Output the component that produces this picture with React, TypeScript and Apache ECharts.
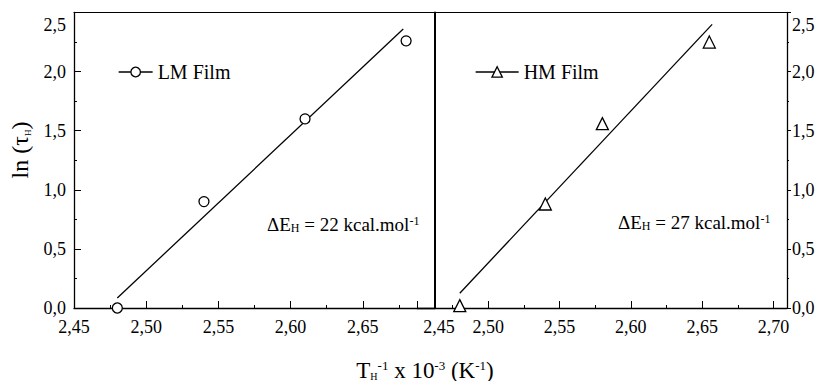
import React, { useEffect, useRef } from 'react';
import * as echarts from 'echarts';

// Data
const lmPoints = [[2.48, 0.0], [2.54, 0.9], [2.61, 1.6], [2.68, 2.26]];
const hmPoints = [[2.48, 0.02], [2.54, 0.88], [2.58, 1.56], [2.655, 2.25]];
const lmFit = [[2.48, 0.085], [2.678, 2.36]];
const hmFit = [[2.48, 0.125], [2.657, 2.4]];
const seriesNames = ['LM Film', 'HM Film'];
const activationEnergies = ['22', '27'];

const FONT = '"Liberation Serif", "Times New Roman", serif';
const BLACK = '#000';

const isMajorX = (v: number) => Math.abs(v * 20 - Math.round(v * 20)) < 1e-6;
const fmtX = (v: number) => (isMajorX(v) ? v.toFixed(2).replace('.', ',') : '');

export default function App() {
  const ref = useRef<HTMLDivElement>(null);
  useEffect(() => {
    const chart = echarts.init(ref.current!, null, { renderer: 'svg' });
    const axisLine = { show: true, onZero: false, lineStyle: { color: BLACK, width: 1.3 } };
    const tickStyle = { color: BLACK, width: 1 };
    const labelBase = { fontFamily: FONT, fontSize: 18, color: BLACK };

    const xMain = (grid: number, max: number, first: boolean) => ({
      type: 'value',
      gridIndex: grid,
      position: 'bottom',
      min: 2.45,
      max,
      interval: 0.05,
      axisLine,
      axisTick: { show: true, inside: true, length: 7, lineStyle: tickStyle },
      minorTick: { show: true, splitNumber: 2, length: 3, lineStyle: tickStyle },
      splitLine: { show: false },
      axisLabel: {
        ...labelBase,
        margin: 10,
        showMaxLabel: false,
        formatter: (v: number) => {
          const s = fmtX(v);
          if (first && s && Math.abs(v - 2.45) < 1e-6) return '{f|' + s + '}';
          return s;
        },
        rich: { f: { ...labelBase, padding: [0, 0, 0, 44] } },
      },
    });
    const xTop = (grid: number, max: number) => ({
      type: 'value',
      gridIndex: grid,
      position: 'top',
      min: 2.45,
      max,
      axisLine: { show: true, onZero: false, lineStyle: { color: BLACK, width: 1.2 } },
      axisTick: { show: false },
      axisLabel: { show: false },
      splitLine: { show: false },
    });
    const yLabel = {
      ...labelBase,
      formatter: (v: number) => {
        const s = v.toFixed(1).replace('.', ',');
        if (Math.abs(v - 2.5) < 1e-6) return '{t|' + s + '}';
        return s;
      },
      rich: { t: { ...labelBase, padding: [24, 0, 0, 0] } },
    };

    const sub = { fontFamily: FONT, fontSize: 10, color: BLACK, verticalAlign: 'bottom' };
    const sup = { fontFamily: FONT, fontSize: 12, color: BLACK, verticalAlign: 'top' };

    const option = {
      animation: false,
      backgroundColor: '#fff',
      grid: [
        { left: 74, top: 12.5, width: 361, height: 295.5 },
        { left: 417, top: 12.5, width: 370, height: 295.5 },
      ],
      xAxis: [xMain(0, 2.7, false), xTop(0, 2.7), xMain(1, 2.7095, true), xTop(1, 2.7095)],
      yAxis: [
        {
          type: 'value',
          gridIndex: 0,
          position: 'left',
          min: 0,
          max: 2.5,
          interval: 0.5,
          axisLine,
          axisTick: { show: true, inside: true, length: 7, lineStyle: tickStyle },
          minorTick: { show: true, splitNumber: 2, length: 3, lineStyle: tickStyle },
          splitLine: { show: false },
          axisLabel: { ...yLabel, margin: 8 },
        },
        {
          type: 'value',
          gridIndex: 0,
          position: 'right',
          min: 0,
          max: 2.5,
          axisLine: { show: true, onZero: false, lineStyle: { color: BLACK, width: 2 } },
          axisTick: { show: false },
          axisLabel: { show: false },
          splitLine: { show: false },
        },
        {
          type: 'value',
          gridIndex: 1,
          position: 'right',
          min: 0,
          max: 2.5,
          interval: 0.5,
          axisLine,
          axisTick: { show: true, inside: false, length: 4, lineStyle: tickStyle },
          minorTick: { show: true, splitNumber: 2, length: 2, lineStyle: tickStyle },
          splitLine: { show: false },
          axisLabel: { ...yLabel, margin: 5 },
        },
      ],
      legend: [
        {
          data: [seriesNames[0]],
          left: 118,
          top: 62,
          padding: 0,
          itemWidth: 34,
          itemHeight: 12,
          selectedMode: false,
          textStyle: { fontFamily: FONT, fontSize: 20, color: BLACK },
          lineStyle: { color: BLACK, width: 1.3, opacity: 1 },
          itemStyle: { color: '#fff', borderColor: BLACK, borderWidth: 1.3 },
        },
        {
          data: [seriesNames[1]],
          left: 475,
          top: 62,
          padding: 0,
          itemWidth: 43,
          itemHeight: 13,
          selectedMode: false,
          textStyle: { fontFamily: FONT, fontSize: 20, color: BLACK },
          lineStyle: { color: BLACK, width: 1.3, opacity: 1 },
          itemStyle: { color: '#fff', borderColor: BLACK, borderWidth: 1.3 },
        },
      ],
      series: [
        {
          name: 'LM fit',
          type: 'line',
          xAxisIndex: 0,
          yAxisIndex: 0,
          data: lmFit,
          symbol: 'none',
          lineStyle: { color: BLACK, width: 1.3 },
        },
        {
          name: seriesNames[0],
          type: 'line',
          xAxisIndex: 0,
          yAxisIndex: 0,
          data: lmPoints,
          symbol: 'circle',
          symbolSize: 10,
          clip: false,
          z: 5,
          lineStyle: { opacity: 0, width: 1.3, color: BLACK },
          itemStyle: { color: '#fff', borderColor: BLACK, borderWidth: 1.3 },
        },
        {
          name: 'HM fit',
          type: 'line',
          xAxisIndex: 2,
          yAxisIndex: 2,
          data: hmFit,
          symbol: 'none',
          lineStyle: { color: BLACK, width: 1.3 },
        },
        {
          name: seriesNames[1],
          type: 'line',
          xAxisIndex: 2,
          yAxisIndex: 2,
          data: hmPoints,
          symbol: 'triangle',
          symbolSize: 12,
          clip: false,
          z: 5,
          lineStyle: { opacity: 0, width: 1.3, color: BLACK },
          itemStyle: { color: '#fff', borderColor: BLACK, borderWidth: 1.3 },
        },
      ],
      graphic: [
        {
          type: 'text',
          x: 20,
          y: 150,
          rotation: Math.PI / 2,
          style: {
            text: '{n|ln (τ}{s|H}{n|)}',
            align: 'center',
            verticalAlign: 'middle',
            rich: {
              n: { fontFamily: FONT, fontSize: 24, color: BLACK },
              s: { ...sub, fontSize: 9 },
            },
          },
        },
        {
          type: 'text',
          x: 425,
          y: 370,
          style: {
            text: '{n|T}{s|H}{p|-1}{n| x 10}{p|-3}{n| (K}{p|-1}{n|)}',
            align: 'center',
            verticalAlign: 'middle',
            rich: {
              n: { fontFamily: FONT, fontSize: 23, color: BLACK },
              s: { ...sub, fontSize: 10 },
              p: { ...sup, fontSize: 13 },
            },
          },
        },
        ...activationEnergies.map((e, i) => ({
          type: 'text',
          x: i === 0 ? 267 : 618,
          y: i === 0 ? 224 : 222,
          style: {
            text: '{n|ΔE}{s|H}{n| = ' + e + ' kcal.mol}{p|-1}',
            align: 'left',
            verticalAlign: 'middle',
            rich: {
              n: { fontFamily: FONT, fontSize: 19, color: BLACK },
              s: { ...sub, fontSize: 12 },
              p: sup,
            },
          },
        })),
      ],
    };
    chart.setOption(option as any);
    return () => chart.dispose();
  }, []);
  return (
    <div
      ref={ref}
      style={{ position: 'fixed', left: 0, top: 0, width: 820, height: 381, background: '#fff' }}
    />
  );
}
